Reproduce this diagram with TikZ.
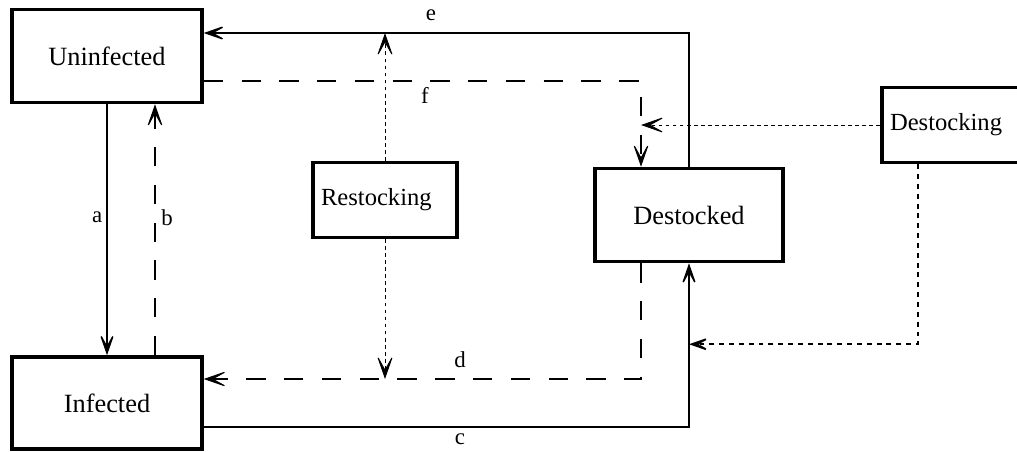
\documentclass[tikz,border=0pt]{standalone}
\usepackage{fontspec}
\setmainfont{Liberation Serif}
\usetikzlibrary{arrows.meta}

\begin{document}
\begin{tikzpicture}[x=0.02cm, y=-0.02cm,
    box/.style = {draw, line width=2pt,
        minimum width=3.8cm, minimum height=1.86cm,
        font=\fontsize{15}{18}\selectfont},
    small box/.style = {draw, line width=2pt,
        minimum height=1.5cm, inner sep=0.16cm,
        text width=2.56cm, align=left,
        font=\fontsize{14}{17}\selectfont},
    flowtip/.style = {-{Stealth[length=15pt, width=10.5pt, inset=9.5pt]}},
    solid flow/.style = {flowtip, line width=0.8pt},
    dashed flow/.style = {flowtip, line width=0.6pt, dash pattern=on 11pt off 10.5pt},
    dotted flow/.style = {flowtip, line width=0.55pt, dash pattern=on 2.2pt off 1.8pt},
    lbl/.style = {font=\fontsize{13}{16}\selectfont}
]
    \useasboundingbox (0,0) rectangle (1017,451);
    \clip (0,0) rectangle (1017,451);

    \draw (107,56) node(U) [box] {Uninfected};
    \draw (107,403) node(I) [box, minimum height=1.84cm] {Infected};
    \draw (385,200) node(R) [small box] {Restocking};
    \draw (689,215) node(D) [box, minimum width=3.76cm] {Destocked};
    \draw (955,125) node(S) [small box, text width=2.6cm] {Destocking};

    % points where the dotted lines meet the flows
    \coordinate (Ue) at ([yshift=0.46cm]U.east);
    \coordinate (Id) at ([yshift=0.48cm]I.east);
    \coordinate (Df) at ([xshift=-0.96cm]D.north);

    % infection and recovery
    \draw [solid flow] (U.south) -- (I.north)
        node [pos=0.45, left=-1pt, lbl] {a};
    \draw [dashed flow] ([xshift=0.96cm]I.north) -- ([xshift=0.96cm]U.south)
        node [pos=0.55, right, lbl] {b};

    % destocking and restocking flows
    \draw [solid flow] ([yshift=-0.48cm]I.east) -| (D.south)
        node [pos=0.264, below, lbl] {c};
    \draw [dashed flow] ([xshift=-0.96cm]D.south) |- (Id)
        node [pos=0.707, above=3pt, lbl] {d};
    \draw [solid flow] (D.north) |- (Ue)
        node [pos=0.766, above=3pt, lbl] {e};
    \draw [dashed flow] ([yshift=-0.5cm]U.east) -| (Df)
        node [pos=0.253, below, lbl] {f};

    % control actions
    \draw [dotted flow] (R.north) -- (R.north |- Ue);
    \draw [dotted flow] (R.south) -- (R.south |- Id);
    \draw [dotted flow] (S.west) -- (S.west -| Df);
    \draw [dotted flow, line width=1pt, dash pattern=on 2.8pt off 2.8pt]
        ([xshift=-0.74cm]S.south) |- ([yshift=-1.62cm]D.south);
\end{tikzpicture}
\end{document}
